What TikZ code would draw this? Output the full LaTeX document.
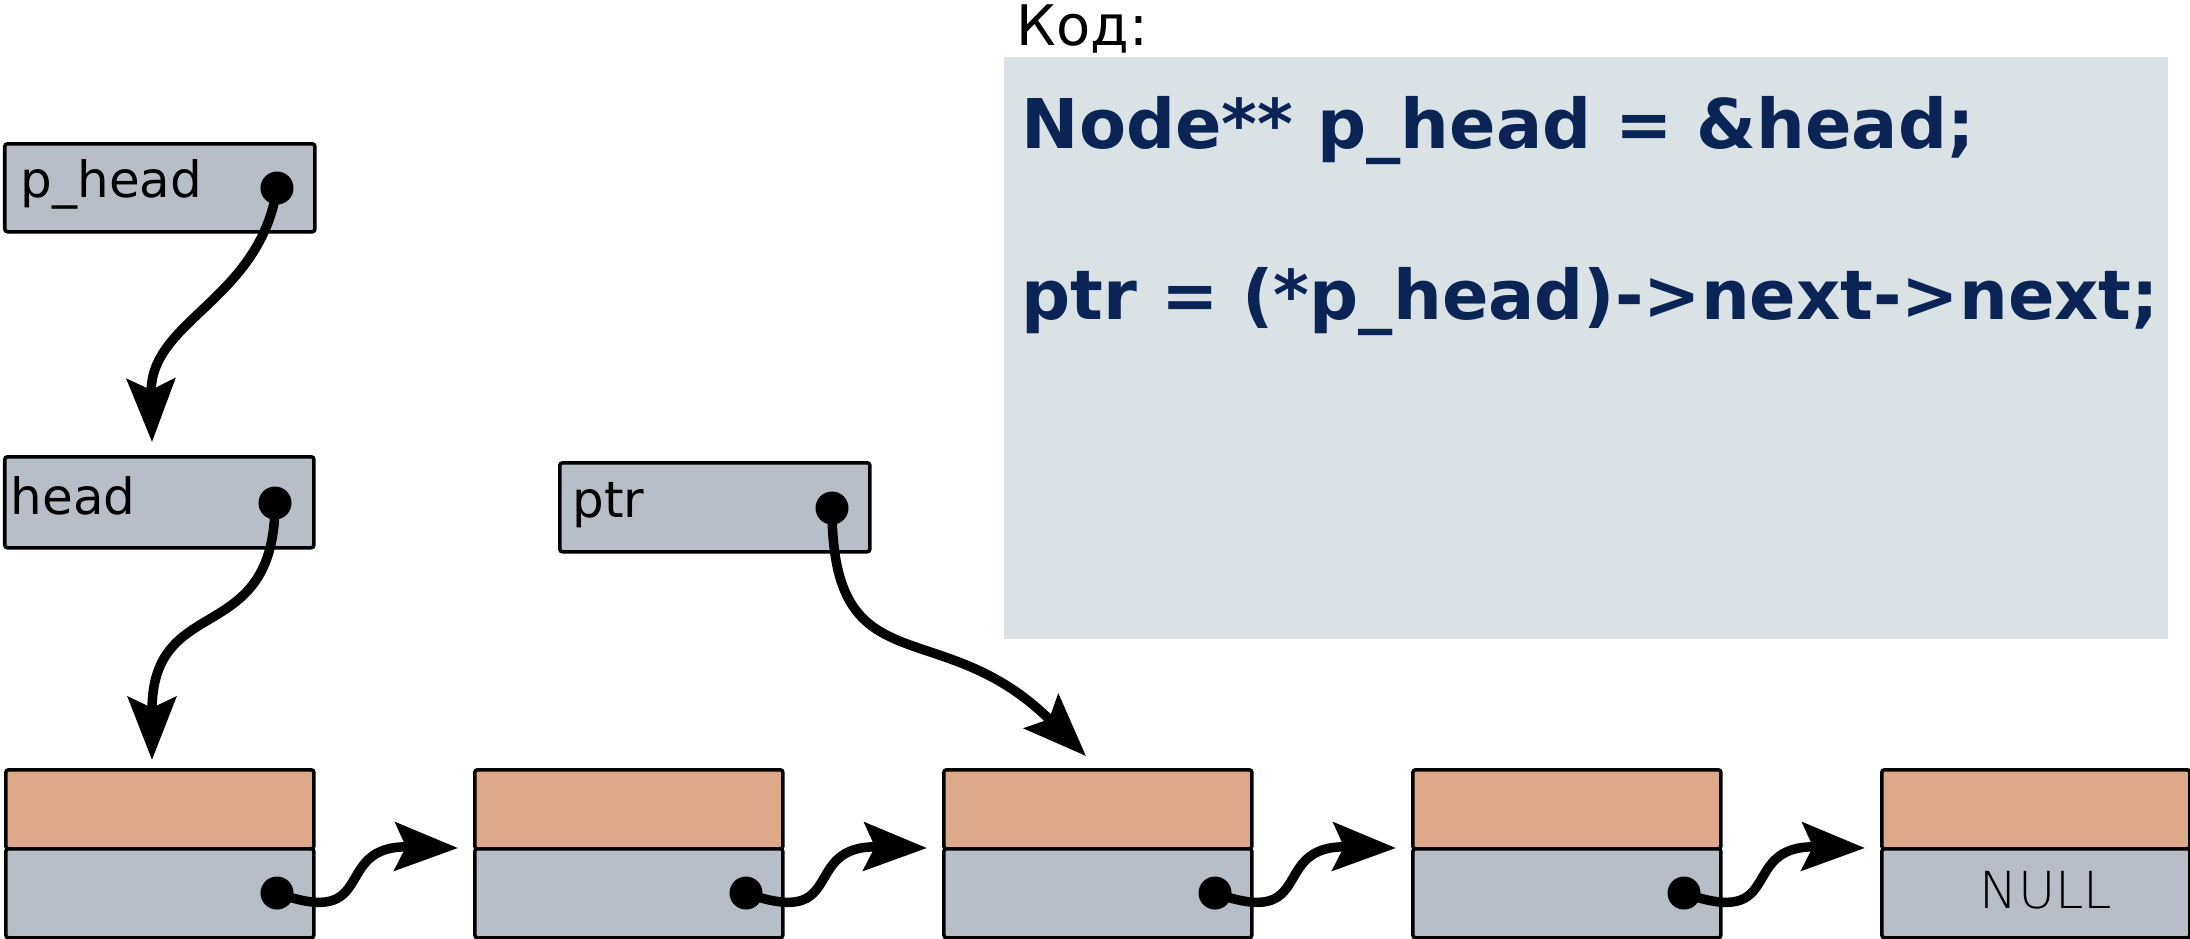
\documentclass[tikz,border=0pt]{standalone}
\usepackage{fontspec}
\setmainfont{DejaVu Sans}
\newfontfamily\thinfont{DejaVu Sans ExtraLight}
\usetikzlibrary{arrows.meta}
\definecolor{cellgray}{RGB}{183,190,200}
\definecolor{cellorange}{RGB}{222,169,136}
\definecolor{codebg}{RGB}{218,226,229}
\definecolor{codeblue}{RGB}{10,36,86}
\begin{document}
\begin{tikzpicture}[x=0.01cm,y=-0.01cm,
  box/.style={draw=black, line width=1pt, rounded corners=0.8pt, inner sep=0pt, anchor=north west},
  varbox/.style={box, fill=cellgray, minimum width=3.09cm, minimum height=0.89cm},
  datacell/.style={box, fill=cellorange, minimum width=3.08cm, minimum height=0.79cm},
  ptrcell/.style={box, fill=cellgray, minimum width=3.08cm, minimum height=0.89cm},
  dot/.style={circle, fill=black, inner sep=0pt, minimum size=0.33cm},
  link/.style={line width=2.7pt, -{Stealth[length=0.63cm, width=0.48cm, inset=0.11cm]}},
  lbl/.style={anchor=base west, inner sep=0pt, font=\fontsize{14.2pt}{17pt}\selectfont},
  code/.style={anchor=base west, inner sep=0pt, text=codeblue, font=\fontsize{19.5pt}{23pt}\selectfont\bfseries}
]
\useasboundingbox (0,0) rectangle (2190,938);

% code panel
\node[fill=codebg, anchor=north west, inner sep=0pt, minimum width=11.64cm, minimum height=5.82cm] (codebox) at (1003,56) {};
\node[anchor=base west, inner sep=0pt, font=\fontsize{15.9pt}{18pt}\selectfont] (codetitle) at (1016,45) {Код:};
\node[code] (code1) at (1021,148) {Node** p\_head = \&head;};
\node[code] (code2) at (1021,319) {ptr = (*p\_head)->next->next;};

% variable boxes
\node[varbox, minimum width=3.10cm, minimum height=0.88cm] (phead) at (3,142) {};
\node[lbl] (pheadtxt) at (20,197) {p\_head};
\node[dot] (pheaddot) at (277,188) {};

\node[varbox, minimum height=0.91cm] (head) at (3,455) {};
\node[lbl] (headtxt) at (10,514) {head};
\node[dot] (headdot) at (275,503) {};

\node[varbox, minimum width=3.10cm] (ptr) at (558,461) {};
\node[lbl] (ptrtxt) at (572,517) {ptr};
\node[dot] (ptrdot) at (832,508) {};

% list cells
\foreach \i in {1,...,5}{
  \node[datacell] (d\i) at ({4+469*(\i-1)},768) {};
  \node[ptrcell] (p\i) at ({4+469*(\i-1)},847) {};
}
\foreach \i in {1,...,4}{
  \node[dot] (dot\i) at ({277+469*(\i-1)},893) {};
  \coordinate (t\i) at ({458+469*(\i-1)},848);
}
\node[anchor=base, inner sep=0pt, font=\thinfont\fontsize{14.5pt}{17pt}\selectfont] (nulltxt) at (2046,908) {NULL};

% arrow ends
\coordinate (pheadend) at (152,442);
\coordinate (headend) at (152,760);
\coordinate (ptrend) at (1086,756);

% connectors
\draw[link] (pheaddot.center) .. controls (260,300) and (150,320) .. (pheadend);
\draw[link] (headdot.center) .. controls (275,650) and (152,590) .. (headend);
\draw[link] (ptrdot.center) .. controls (832,690) and (940,610) .. (ptrend);
\foreach \i in {1,...,4}{
  \draw[link] (dot\i.center) .. controls +(103,37) and +(-128,-3) .. (t\i);
}
\end{tikzpicture}
\end{document}
